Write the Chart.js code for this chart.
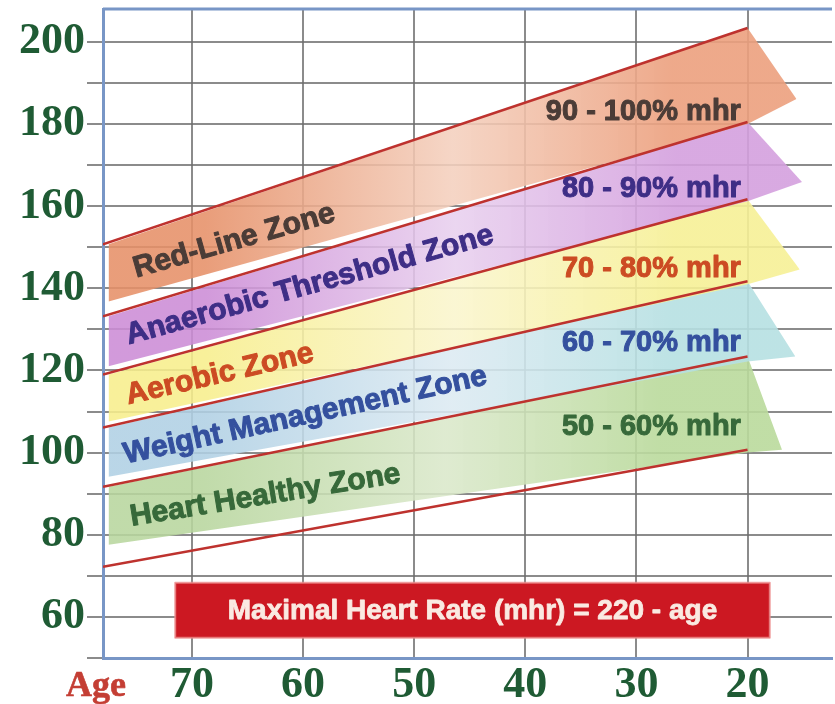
<!DOCTYPE html>
<html>
<head>
<meta charset="utf-8">
<script src="https://cdn.jsdelivr.net/npm/chart.js@4.4.1/dist/chart.umd.min.js"></script>
<style>
  html, body { margin: 0; padding: 0; background: #ffffff; }
  #wrap { width: 835px; height: 704px; position: relative; }
</style>
</head>
<body>
<div id="wrap"><canvas id="chart"></canvas></div>
<script>
// ---- Axes ----------------------------------------------------------------
const ageTicks = [70, 60, 50, 40, 30, 20];
const rateGrid = [50, 60, 70, 80, 90, 100, 110, 120, 130, 140, 150, 160, 170, 180, 190, 200];
const rateLabels = [60, 80, 100, 120, 140, 160, 180, 200];

// ---- Zone boundary lines (% of maximal heart rate) -------------------------
// value at the left edge (age 78) and at age 20
const lineAges = [78, 20];
const mhr100 = [150.7, 203.4];
const mhr90 = [133.2, 180.5];
const mhr80 = [119.0, 161.7];
const mhr70 = [106.1, 141.7];
const mhr60 = [91.7, 123.4];
const mhr50 = [72.2, 100.7];

// ---- Zone ribbons (top to bottom) -----------------------------------------
const zoneNames = ['Red-Line Zone', 'Anaerobic Threshold Zone', 'Aerobic Zone',
                   'Weight Management Zone', 'Heart Healthy Zone'];
const zoneRanges = ['90 - 100% mhr', '80 - 90% mhr', '70 - 80% mhr',
                    '60 - 70% mhr', '50 - 60% mhr'];
const ribbonStartAge = 77.5;
const ribbonTopLeft = [150.7, 133.2, 119.0, 106.1, 91.7];
const ribbonTopRight = [203.4, 180.5, 161.7, 141.7, 123.4];
const ribbonBottomLeft = [136.8, 121.0, 107.6, 94.1, 77.6];
const ribbonBottomRight = [180.0, 161.2, 141.0, 122.2, 100.0];
const arrowTipAge = [15.6, 15.1, 15.3, 15.7, 16.9];
const arrowTipRate = [186.1, 165.9, 144.6, 123.4, 100.7];

const formulaText = 'Maximal Heart Rate (mhr) = 220 - age';

// ---- Styling ---------------------------------------------------------------
const ribbonShades = [
  ['rgba(230,144,104,0.88)', 'rgba(244,208,190,0.88)', 'rgba(236,160,126,0.9)'],
  ['rgba(204,140,214,0.88)', 'rgba(232,208,238,0.88)', 'rgba(212,160,222,0.9)'],
  ['rgba(247,238,140,0.88)', 'rgba(250,245,205,0.88)', 'rgba(246,240,150,0.9)'],
  ['rgba(176,208,228,0.88)', 'rgba(220,234,242,0.88)', 'rgba(182,224,226,0.9)'],
  ['rgba(184,214,158,0.88)', 'rgba(218,232,202,0.88)', 'rgba(186,218,156,0.9)']
];
const zoneTextColors = ['#4b3c37', '#3e2e86', '#cc4b23', '#34509e', '#37693a'];
const lineColor = 'rgb(190,50,46)';
const gridColor = 'rgba(110,110,110,0.8)';
const frameColor = 'rgb(120,150,198)';
const tickColor = '#1f5b34';
const serif = '"Liberation Serif", "Times New Roman", serif';
const sans = '"Liberation Sans", Arial, sans-serif';

// where each zone label sits (age, rate) and its slant in degrees
const zoneNameAt = [
  { age: 66.2, rate: 151.5, angle: -15.8 },
  { age: 59.4, rate: 140.7, angle: -15.5 },
  { age: 67.5, rate: 119.0, angle: -13.0 },
  { age: 59.8, rate: 109.0, angle: -12.4 },
  { age: 63.4, rate: 89.5, angle: -9.2 }
];
const rangeLabelAge = 20.6;
const rangeLabelRate = [182.9, 164.1, 144.6, 126.8, 106.3];
const formulaBox = { ageFrom: 71.5, ageTo: 18.0, rateTop: 68.3, rateBottom: 54.9 };

// ---- Datasets ---------------------------------------------------------------
function pts(ages, vals) { return ages.map((a, i) => ({ x: a, y: vals[i] })); }

function ribbonFill(i) {
  return function (ctx) {
    const chart = ctx.chart;
    if (!chart.chartArea) return ribbonShades[i][1];
    const xs = chart.scales.x;
    const x0 = xs.getPixelForValue(ribbonStartAge);
    const x1 = xs.getPixelForValue(arrowTipAge[i]);
    const g = chart.ctx.createLinearGradient(x0, 0, x1, 0);
    g.addColorStop(0, ribbonShades[i][0]);
    g.addColorStop(0.14, ribbonShades[i][0]);
    g.addColorStop(0.5, ribbonShades[i][1]);
    g.addColorStop(0.82, ribbonShades[i][2]);
    g.addColorStop(1, ribbonShades[i][2]);
    return g;
  };
}

const datasets = [];
zoneNames.forEach((name, i) => {
  datasets.push({
    label: name,
    data: [
      { x: ribbonStartAge, y: ribbonTopLeft[i] },
      { x: 20, y: ribbonTopRight[i] },
      { x: arrowTipAge[i], y: arrowTipRate[i] }
    ],
    borderWidth: 0, pointRadius: 0, tension: 0,
    fill: '+1', backgroundColor: ribbonFill(i), order: 10
  });
  datasets.push({
    label: name + ' lower edge',
    data: [
      { x: ribbonStartAge, y: ribbonBottomLeft[i] },
      { x: 20, y: ribbonBottomRight[i] },
      { x: arrowTipAge[i], y: arrowTipRate[i] }
    ],
    borderWidth: 0, pointRadius: 0, tension: 0, fill: false, order: 10
  });
});

[mhr100, mhr90, mhr80, mhr70, mhr60, mhr50].forEach((vals, i) => {
  datasets.push({
    label: 'line ' + i,
    data: pts(lineAges, vals),
    borderColor: lineColor, borderWidth: 2.6, pointRadius: 0,
    fill: false, order: 1
  });
});

// heavy text: fill plus a thin outline in the same colour
function boldText(ctx, txt, x, y, color, weight) {
  ctx.fillStyle = color;
  ctx.strokeStyle = color;
  ctx.lineWidth = weight;
  ctx.lineJoin = 'round';
  ctx.strokeText(txt, x, y);
  ctx.fillText(txt, x, y);
}

// ---- Text, frame and formula box --------------------------------------------
const annotate = {
  id: 'annotate',
  afterDatasetsDraw(chart) {
    const { ctx, chartArea, scales: { x, y } } = chart;
    ctx.save();

    // top frame line
    ctx.strokeStyle = frameColor;
    ctx.lineWidth = 3;
    ctx.beginPath();
    ctx.moveTo(chartArea.left, chartArea.top);
    ctx.lineTo(chartArea.right, chartArea.top);
    ctx.stroke();

    // slanted zone names
    zoneNames.forEach((name, i) => {
      const p = zoneNameAt[i];
      ctx.save();
      ctx.translate(x.getPixelForValue(p.age), y.getPixelForValue(p.rate));
      ctx.rotate(p.angle * Math.PI / 180);
      ctx.font = 'bold 30px ' + sans;
      ctx.textAlign = 'center';
      ctx.textBaseline = 'middle';
      boldText(ctx, name, 0, 0, zoneTextColors[i], 1);
      ctx.restore();
    });

    // percentage ranges at the right
    ctx.font = 'bold 29px ' + sans;
    ctx.textAlign = 'right';
    ctx.textBaseline = 'middle';
    zoneRanges.forEach((txt, i) => {
      boldText(ctx, txt, x.getPixelForValue(rangeLabelAge), y.getPixelForValue(rangeLabelRate[i]),
               zoneTextColors[i], 1);
    });

    // formula box
    const bx0 = x.getPixelForValue(formulaBox.ageFrom);
    const bx1 = x.getPixelForValue(formulaBox.ageTo);
    const by0 = y.getPixelForValue(formulaBox.rateTop);
    const by1 = y.getPixelForValue(formulaBox.rateBottom);
    ctx.fillStyle = 'rgb(204,24,34)';
    ctx.fillRect(bx0, by0, bx1 - bx0, by1 - by0);
    ctx.strokeStyle = 'rgba(236,140,140,0.8)';
    ctx.lineWidth = 2;
    ctx.strokeRect(bx0, by0, bx1 - bx0, by1 - by0);
    ctx.font = 'bold 28px ' + sans;
    ctx.textAlign = 'center';
    ctx.textBaseline = 'middle';
    boldText(ctx, formulaText, (bx0 + bx1) / 2, (by0 + by1) / 2 + 1, 'rgb(250,234,226)', 0.8);

    // "Age" caption left of the age ticks
    ctx.font = 'bold 36px ' + serif;
    ctx.textAlign = 'center';
    ctx.textBaseline = 'alphabetic';
    boldText(ctx, 'Age', chartArea.left - 7, 696, 'rgb(196,62,52)', 0.6);

    ctx.restore();
  }
};

new Chart(document.getElementById('chart'), {
  type: 'line',
  data: { datasets },
  options: {
    responsive: true,
    maintainAspectRatio: false,
    animation: false,
    layout: { padding: { left: 0, right: 3, top: 9, bottom: 0 } },
    plugins: { legend: { display: false }, tooltip: { enabled: false } },
    scales: {
      x: {
        type: 'linear',
        reverse: true,
        min: 12.4,
        max: 78,
        afterBuildTicks: (s) => { s.ticks = ageTicks.map(v => ({ value: v })); },
        afterFit: (s) => { s.height = 46; s.paddingLeft = 0; s.paddingRight = 0; },
        grid: { color: gridColor, lineWidth: 2, drawTicks: false },
        border: { color: frameColor, width: 3 },
        ticks: {
          padding: 1,
          color: tickColor,
          font: { family: serif, size: 44, weight: 'bold' },
          maxRotation: 0,
          autoSkip: false
        }
      },
      y: {
        type: 'linear',
        min: 50,
        max: 208,
        afterBuildTicks: (s) => { s.ticks = rateGrid.map(v => ({ value: v })); },
        afterFit: (s) => { s.width = 103; s.paddingTop = 0; s.paddingBottom = 0; },
        grid: { color: gridColor, lineWidth: 2, drawTicks: true, tickLength: 16, tickColor: gridColor },
        border: { color: frameColor, width: 3 },
        ticks: {
          padding: 2,
          color: tickColor,
          font: { family: serif, size: 44, weight: 'bold' },
          autoSkip: false,
          callback: (v) => rateLabels.includes(v) ? String(v) : ''
        }
      }
    }
  },
  plugins: [annotate]
});
</script>
</body>
</html>
